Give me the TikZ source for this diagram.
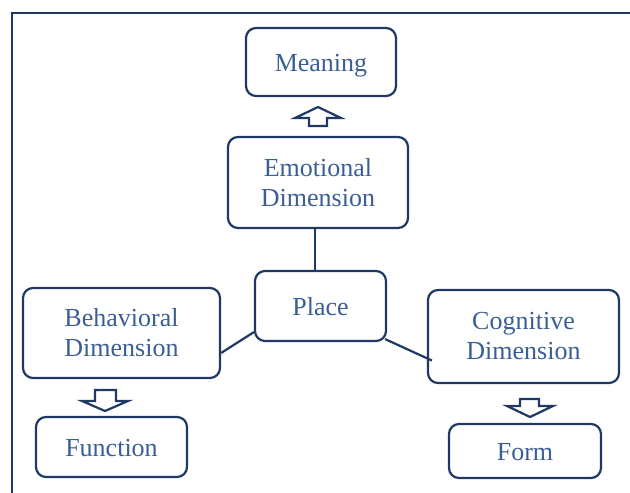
\documentclass[tikz,border=0pt]{standalone}
\usepackage{fontspec}
\setmainfont{Liberation Serif}
\usepackage{tikz}

\definecolor{navy}{HTML}{1F3864}
\definecolor{textblue}{HTML}{3A5F94}

\tikzset{
  dimbox/.style={draw=navy, line width=2.2pt, rounded corners=10pt, text=textblue,
    align=center, inner sep=0pt, font=\fontsize{26}{30}\selectfont},
  oneline/.style={text height=19pt, text depth=0pt},
  link/.style={draw=navy, line width=2.2pt},
  blockarrow/.style={draw=navy, line width=2.2pt, fill=white, line join=miter}
}

\begin{document}
\begin{tikzpicture}[x=1pt, y=-1pt]
		\useasboundingbox (0,0) rectangle (630,493);
		\draw [link] (12,493) -- (12,13) -- (630,13);

		\node[dimbox, oneline, minimum width=150pt, minimum height=68pt] (meaning) at (321,62) {Meaning};
		\node[dimbox, minimum width=180pt, minimum height=91pt] (emo) at (318,182.5) {Emotional\\Dimension};
		\node[dimbox, oneline, minimum width=131pt, minimum height=70pt] (place) at (320.5,306) {Place};
		\node[dimbox, minimum width=197pt, minimum height=90pt] (behav) at (121.5,333) {Behavioral\\Dimension};
		\node[dimbox, minimum width=191pt, minimum height=93pt] (cog) at (523.5,336.5) {Cognitive\\Dimension};
		\node[dimbox, oneline, minimum width=151pt, minimum height=60pt] (func) at (111.5,447) {Function};
		\node[dimbox, oneline, minimum width=152pt, minimum height=54pt] (form) at (525,451) {Form};

		\draw [link] (emo.south -| 315,0) -- (place.north -| 315,0);
		\draw [link] ([yshift=10pt]place.south west) -- ([yshift=-20pt]behav.east);
		\draw [link] ([xshift=-2pt,yshift=3pt]place.south east) -- ([xshift=5pt,yshift=-24pt]cog.west);

		% hollow block arrows
		\draw [blockarrow] (318,107) -- (341,118) -- (327,118) -- (327,126) -- (309,126) -- (309,118) -- (295,118) -- cycle;
		\draw [blockarrow] (105,411) -- (128,401) -- (116,401) -- (116,390) -- (95,390) -- (95,401) -- (82,401) -- cycle;
		\draw [blockarrow] (530,417) -- (553,406) -- (539,406) -- (539,399) -- (520,399) -- (520,406) -- (507,406) -- cycle;

\end{tikzpicture}
\end{document}
